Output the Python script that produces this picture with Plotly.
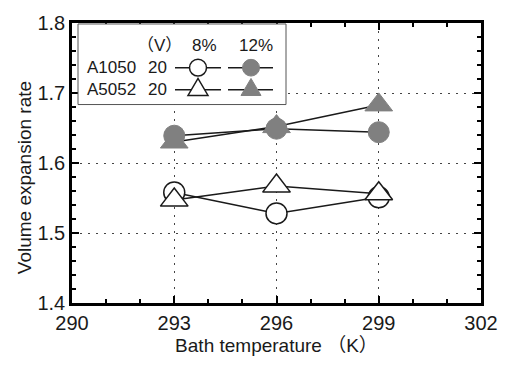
import math
import plotly.graph_objects as go

# ---- data ----
temps = [293, 296, 299]
a1050_8 = [1.558, 1.528, 1.551]
a5052_8 = [1.547, 1.567, 1.556]
a1050_12 = [1.639, 1.649, 1.644]
a5052_12 = [1.630, 1.652, 1.683]

x_ticks = [290, 293, 296, 299, 302]
y_ticks = [1.4, 1.5, 1.6, 1.7, 1.8]

FONT = "Liberation Sans, Arial, Noto Sans CJK JP, sans-serif"
GRAY = "#808080"
INK = "#1a1a1a"

W, H = 510, 367
L, R, T, B = 72, 29, 18, 64
pw, ph = W - L - R, H - T - B


def px(x):  # pixel x -> paper
    return (x - L) / pw


def py(y):  # pixel y -> paper
    return (H - B - y) / ph


fig = go.Figure()

series = [
    (a1050_8, "circle", 21, "white", INK, 1.5),
    (a5052_8, "triangle-up", 24, "white", INK, 1.5),
    (a1050_12, "circle", 21, GRAY, GRAY, 1),
    (a5052_12, "triangle-up", 24, GRAY, GRAY, 1),
]

for ys, *_ in series:
    fig.add_trace(go.Scatter(x=temps, y=ys, mode="lines",
                             line=dict(color=INK, width=1.5),
                             showlegend=False))
for ys, sym, sz, fill, lc, lw in series:
    fig.add_trace(go.Scatter(x=temps, y=ys, mode="markers",
                             marker=dict(symbol=sym, size=sz, color=fill,
                                         line=dict(color=lc, width=lw)),
                             showlegend=False))

# ---- custom legend box (paper-referenced shapes) ----
bx0, bx1, by0, by1 = 78, 286, 19, 101
fig.add_shape(type="rect", xref="paper", yref="paper",
              x0=px(bx0), x1=px(bx1), y0=py(by1), y1=py(by0), layer="above",
              fillcolor="white", line=dict(color="#555555", width=1))


def sample(xa, xc, xb, yrow, kind, fill, lc, lw):
    fig.add_shape(type="line", xref="paper", yref="paper",
                  x0=px(xa), x1=px(xb), y0=py(yrow), y1=py(yrow),
                  layer="above", line=dict(color=INK, width=1.5))
    if kind == "circle":
        r = 8.5
        fig.add_shape(type="circle", xref="paper", yref="paper",
                      x0=px(xc - r), x1=px(xc + r), y0=py(yrow + r), y1=py(yrow - r),
                      layer="above", fillcolor=fill, line=dict(color=lc, width=lw))
    else:
        s = 20.0
        h = s * math.sqrt(3) / 2
        ytop, ybot = yrow - 2 * h / 3, yrow + h / 3
        path = (f"M {px(xc - s / 2)},{py(ybot)} L {px(xc + s / 2)},{py(ybot)} "
                f"L {px(xc)},{py(ytop)} Z")
        fig.add_shape(type="path", xref="paper", yref="paper", path=path,
                      layer="above", fillcolor=fill, line=dict(color=lc, width=lw))


for yrow, kind in [(63.5, "circle"), (86, "triangle")]:
    sample(175, 198, 221, yrow, kind, "white", INK, 1.5)
    sample(228, 251, 273, yrow, kind, GRAY, GRAY, 1)

leg_texts = [
    ("（V）", 159, 41), ("8%", 204.5, 41), ("12%", 255.5, 41),
    ("A1050", 111, 63.5), ("20", 157.5, 63.5),
    ("A5052", 111, 86), ("20", 157.5, 86),
]
for txt, tx, ty in leg_texts:
    fig.add_annotation(text=txt, x=px(tx), y=py(ty), xref="paper", yref="paper",
                       showarrow=False, xanchor="center", yanchor="middle",
                       font=dict(family=FONT, size=17, color=INK))

fig.add_annotation(text="Volume expansion rate", textangle=-90,
                   x=px(24), y=py(176),
                   xref="paper", yref="paper", showarrow=False,
                   xanchor="center", yanchor="middle",
                   font=dict(family=FONT, size=19, color=INK))

tickfont = dict(family=FONT, size=20, color=INK)

fig.update_layout(
    width=W, height=H,
    margin=dict(l=L, r=R, t=T, b=B),
    plot_bgcolor="white",
    xaxis=dict(range=[290, 302], showline=True, linecolor="black", linewidth=2.5,
               mirror="allticks", ticks="inside", ticklen=7, tickwidth=2,
               tickcolor="black", tick0=x_ticks[0], dtick=x_ticks[1] - x_ticks[0],
               tickfont=tickfont,
               showgrid=True, gridcolor="#444", griddash="2px,6px",
               minor=dict(dtick=1, ticks="inside", ticklen=4, tickwidth=2,
                          tickcolor="black"),
               title=dict(text="Bath temperature （K）",
                          font=dict(family=FONT, size=19, color=INK),
                          standoff=6)),
    yaxis=dict(range=[1.4, 1.8], showline=True, linecolor="black", linewidth=2.5,
               mirror="allticks", ticks="inside", ticklen=7, tickwidth=2,
               tickcolor="black", tick0=y_ticks[0],
               dtick=round(y_ticks[1] - y_ticks[0], 3), tickformat=".1f",
               tickfont=tickfont,
               showgrid=True, gridcolor="#444", griddash="2px,6px",
               minor=dict(dtick=0.02, ticks="inside", ticklen=4, tickwidth=2,
                          tickcolor="black")),
    showlegend=False,
)

fig.write_html("out.html", config={"displayModeBar": False},
               post_script="document.body.style.margin='0';")
